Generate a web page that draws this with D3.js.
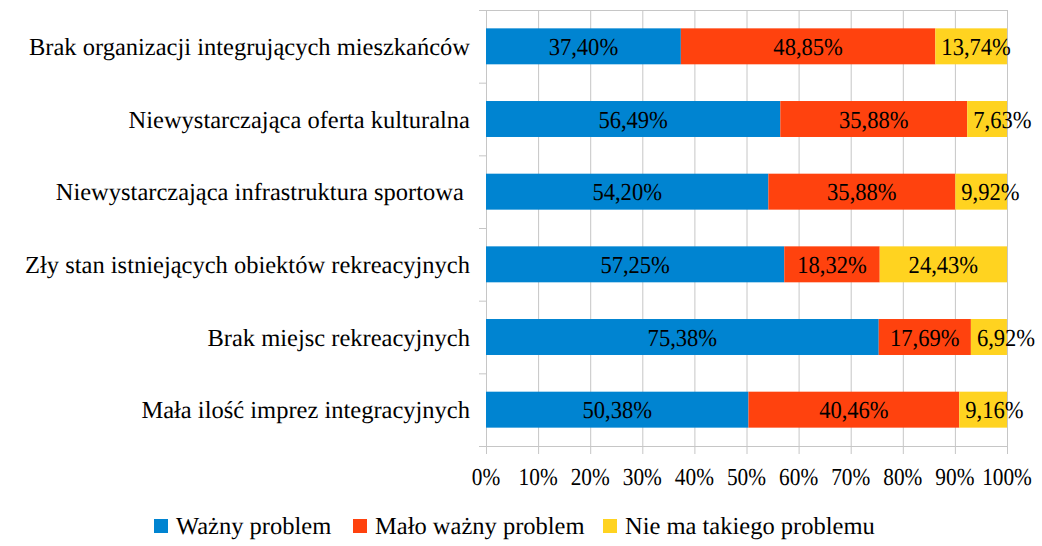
<!DOCTYPE html>
<html>
<head>
<meta charset="utf-8">
<script src="https://cdn.jsdelivr.net/npm/d3@7"></script>
<style>
	body { margin: 0; background: #fff; }
	svg text { text-rendering: geometricPrecision; }
</style>
</head>
<body>
<svg id="chart"></svg>
<script>
const categories = [
	'Brak organizacji integrujących mieszkańców',
	'Niewystarczająca oferta kulturalna',
	'Niewystarczająca infrastruktura sportowa ',
	'Zły stan istniejących obiektów rekreacyjnych',
	'Brak miejsc rekreacyjnych',
	'Mała ilość imprez integracyjnych',
]
const seriesNames = ['Ważny problem', 'Mało ważny problem', 'Nie ma takiego problemu']
const wazny = [37.40, 56.49, 54.20, 57.25, 75.38, 50.38]
const maloWazny = [48.85, 35.88, 35.88, 18.32, 17.69, 40.46]
const brak = [13.74, 7.63, 9.92, 24.43, 6.92, 9.16]
const xTicks = [0, 10, 20, 30, 40, 50, 60, 70, 80, 90, 100]

const COLORS = ['#0084D1', '#FF420E', '#FFD320']
const FONT = 'Liberation Serif'
const GRID = '#c6c6c6'
const LABEL_SX = 0.92

let width = 1042
let height = 546
let margin = { top: 10, right: 35, bottom: 100, left: 486 }

let svg = d3.select('#chart')
	.attr('width', width)
	.attr('height', height)

let rows = categories.map((c, i) => ({
	category: c,
	'Ważny problem': wazny[i],
	'Mało ważny problem': maloWazny[i],
	'Nie ma takiego problemu': brak[i],
}))

let layers = d3.stack().keys(seriesNames)(rows)

let x = d3.scaleLinear()
	.domain([0, 100])
	.range([margin.left, width - margin.right])

let yOuter = d3.scaleBand()
	.domain(categories)
	.range([margin.top, height - margin.bottom])

let y = d3.scaleBand()
	.domain(categories)
	.range([margin.top, height - margin.bottom])
	.paddingInner(0.505)
	.paddingOuter(0.2525)

// condensed text helper (the original renders a bit narrow)
function squeeze(sel, sx) {
	sel.attr('transform', function () {
		let tx = +d3.select(this).attr('x')
		let ty = +d3.select(this).attr('y')
		return `translate(${tx},${ty}) scale(${sx},1)`
	})
	.attr('x', 0)
	.attr('y', 0)
}

// vertical grid
svg.append('g')
	.selectAll('line')
	.data(xTicks)
	.enter()
		.append('line')
		.attr('x1', d => x(d) + 0.5)
		.attr('x2', d => x(d) + 0.5)
		.attr('y1', margin.top)
		.attr('y2', height - margin.bottom + 8)
		.attr('stroke', GRID)

// top border
svg.append('line')
	.attr('x1', x(0)).attr('x2', x(100) + 1)
	.attr('y1', margin.top + 0.5).attr('y2', margin.top + 0.5)
	.attr('stroke', GRID)

// category separators on the left side + bottom axis
let seps = categories.map(c => yOuter(c)).concat([height - margin.bottom])
svg.append('g')
	.selectAll('line')
	.data(seps)
	.enter()
		.append('line')
		.attr('x1', x(0) - 7)
		.attr('x2', (d, i) => i === seps.length - 1 ? x(100) + 1 : x(0))
		.attr('y1', d => d + 0.5)
		.attr('y2', d => d + 0.5)
		.attr('stroke', GRID)

// bars
let layerG = svg.selectAll('.layer')
	.data(layers)
	.enter()
		.append('g')
		.attr('class', 'layer')
		.attr('fill', (d, i) => COLORS[i])

layerG.selectAll('rect')
	.data(d => d)
	.enter()
		.append('rect')
		.attr('x', d => x(d[0]))
		.attr('width', d => x(d[1]) - x(d[0]))
		.attr('y', d => y(d.data.category))
		.attr('height', y.bandwidth())

// value labels - centred, but pushed to start at the segment when too wide
layerG.selectAll('text')
	.data(d => d)
	.enter()
		.append('text')
		.attr('y', d => y(d.data.category) + y.bandwidth() / 2 + 8.5)
		.attr('font-family', FONT)
		.attr('font-size', 24.5)
		.attr('fill', '#000')
		.text(d => (d[1] - d[0]).toFixed(2).replace('.', ',') + '%')
		.each(function (d) {
			let w = this.getComputedTextLength() * LABEL_SX
			let segW = x(d[1]) - x(d[0])
			let x0 = w > segW - 4 ? x(d[0]) + 6 : (x(d[0]) + x(d[1])) / 2 - w / 2
			d3.select(this).attr('x', x0)
		})
		.call(squeeze, LABEL_SX)

// category labels
svg.append('g')
	.selectAll('text')
	.data(categories)
	.enter()
		.append('text')
		.attr('x', x(0) - 16)
		.attr('y', d => y(d) + y.bandwidth() / 2 + 8.5)
		.attr('text-anchor', 'end')
		.attr('font-family', FONT)
		.attr('font-size', 24.5)
		.attr('fill', '#000')
		.style('white-space', 'pre')
		.text(d => d)

// x tick labels
svg.append('g')
	.selectAll('text')
	.data(xTicks)
	.enter()
		.append('text')
		.attr('x', d => x(d))
		.attr('y', 485)
		.attr('text-anchor', 'middle')
		.attr('font-family', FONT)
		.attr('font-size', 24.5)
		.attr('fill', '#000')
		.text(d => d + '%')
		.call(squeeze, 0.87)

// legend
let legendX = [154, 353, 603]
let legend = svg.append('g')
	.selectAll('g')
	.data(seriesNames)
	.enter()
		.append('g')
		.attr('transform', (d, i) => `translate(${legendX[i]},519)`)

legend.append('rect')
	.attr('width', 14)
	.attr('height', 14)
	.attr('fill', (d, i) => COLORS[i])

legend.append('text')
	.attr('x', 22)
	.attr('y', 15)
	.attr('font-family', FONT)
	.attr('font-size', 24.5)
	.attr('fill', '#000')
	.text(d => d)
</script>
</body>
</html>
